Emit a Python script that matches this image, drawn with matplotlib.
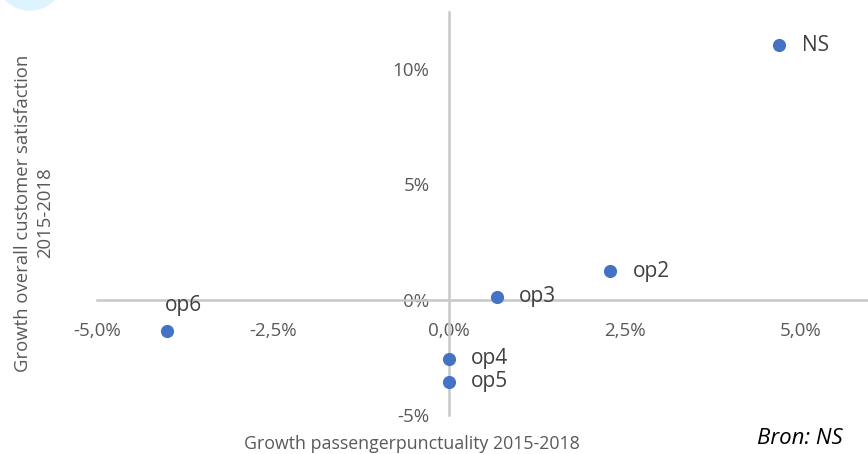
import matplotlib.pyplot as plt
from matplotlib.patches import Ellipse
from matplotlib.ticker import FuncFormatter

# growth in punctuality (x) and customer satisfaction (y), in percent
operators = ['NS', 'op2', 'op3', 'op4', 'op5', 'op6']
punctuality = [4.69, 2.29, 0.68, 0.0, 0.0, -4.01]
satisfaction = [11.0, 1.22, 0.13, -2.57, -3.57, -1.35]
# label offsets in points (dx, dy)
label_offsets = [(16, 0), (16, 0), (16, 0), (16, 0), (16, 0), (12, 18)]

x_ticks = [-5.0, -2.5, 0.0, 2.5, 5.0]
y_ticks = [-5, 0, 5, 10]

plt.rcParams['font.family'] = ['Open Sans', 'DejaVu Sans']
grey = '#595959'
line_col = '#C8C8C8'

fig = plt.figure(figsize=(8.68, 4.54), dpi=100)
ax = fig.add_axes([97 / 868, 39 / 454, 1 - 97 / 868, (415 - 12) / 454])

ax.scatter(punctuality, satisfaction, s=90, color='#4472C4', zorder=3, linewidths=0)
for name, x, y, (dx, dy) in zip(operators, punctuality, satisfaction, label_offsets):
    ax.annotate(name, (x, y), xytext=(dx, dy), textcoords='offset points',
                ha='left' if dy == 0 else 'center', va='center',
                fontsize=15, color='#404040')

ax.set_xlim(-5.0, 5.95)
ax.set_ylim(-5.0, 12.45)

for side in ['top', 'right']:
    ax.spines[side].set_visible(False)
ax.spines['left'].set_position(('data', 0))
ax.spines['bottom'].set_position(('data', 0))
for side in ['left', 'bottom']:
    ax.spines[side].set_color(line_col)
    ax.spines[side].set_linewidth(1.8)

ax.set_xticks(x_ticks)
ax.set_yticks(y_ticks)
ax.xaxis.set_major_formatter(FuncFormatter(lambda v, p: f'{v:.1f}%'.replace('.', ',')))
ax.yaxis.set_major_formatter(FuncFormatter(lambda v, p: f'{v:.0f}%'))
ax.tick_params(axis='x', length=0, pad=16, labelsize=13.5, labelcolor=grey)
ax.tick_params(axis='y', length=0, pad=14, labelsize=13.5, labelcolor=grey)

fig.text(412 / 868, 1 - 444 / 454, 'Growth passengerpunctuality 2015-2018',
         ha='center', va='center', fontsize=12.8, color=grey)
fig.text(34 / 868, 1 - 213 / 454, 'Growth overall customer satisfaction\n2015-2018',
         ha='center', va='center', rotation=90, fontsize=13.3, color=grey,
         linespacing=1.25)
fig.text(843 / 868, 1 - 438 / 454, 'Bron: NS', ha='right', va='center',
         fontsize=16, style='italic', color='black')

# decorative circle peeking in at the top-left corner
fig.add_artist(Ellipse((0.30, 4.54 + 0.24), 0.68, 0.68, transform=fig.dpi_scale_trans,
                       color='#DDF3FD', zorder=0))

fig.savefig('out.png', dpi=100)
